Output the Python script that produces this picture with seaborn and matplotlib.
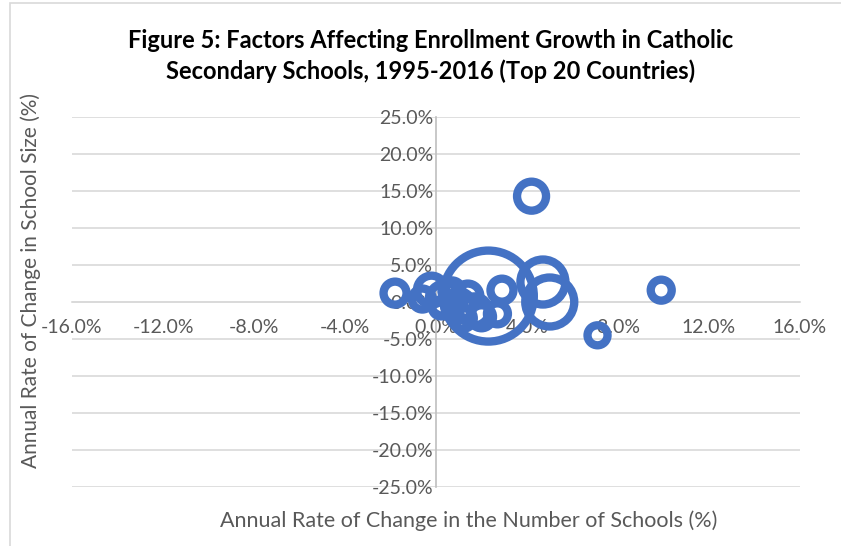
import matplotlib
matplotlib.use("Agg")
import matplotlib.pyplot as plt
import seaborn as sns
import pandas as pd
from matplotlib.ticker import FuncFormatter
from matplotlib.patches import Rectangle

# Data
school_growth = [4.2, 2.3, 4.7, 5.0, 2.9, 2.7, 9.9, 7.1, -1.8, -0.2,
                 0.4, 1.0, 1.4, 1.7, 2.0, -0.6, 0.7, 1.2, 0.2, 0.9]
size_growth = [14.3, 0.8, 2.7, 0.0, 1.6, -1.6, 1.6, -4.5, 1.2, 1.6,
               0.3, -0.5, 0.8, -1.2, -2.0, 0.4, 1.5, -2.2, -0.8, 0.2]
bubble = [210, 2070, 506, 600, 132, 110, 110, 100, 132, 210,
          272, 210, 156, 210, 132, 110, 110, 110, 72, 72]

x_ticks = [-16, -12, -8, -4, 0, 4, 8, 12, 16]
y_ticks = [-25, -20, -15, -10, -5, 0, 5, 10, 15, 20, 25]

df = pd.DataFrame({"x": school_growth, "y": size_growth, "b": bubble})

sns.set_theme(style="white")
plt.rcParams['font.family'] = ['Lato', 'DejaVu Sans']

W, H = 841, 546
fig = plt.figure(figsize=(W / 100, H / 100), dpi=100)
ax = fig.add_axes([72 / W, 1 - 487 / H, (800 - 72) / W, (487 - 117) / H])

k = 2.0736
bmin, bmax = min(bubble), max(bubble)
sns.scatterplot(data=df, x="x", y="y", size="b", sizes=(k * bmin, k * bmax),
                size_norm=(bmin, bmax), edgecolor="#4472C4", facecolor="none",
                linewidth=6, legend=False, ax=ax, zorder=3)
for c in ax.collections:
    c.set_facecolor("none")
    c.set_edgecolor("#4472C4")

ax.set_xlim(-16, 16)
ax.set_ylim(-25, 25)
ax.set_xticks(x_ticks)
ax.set_yticks(y_ticks)
fmt = FuncFormatter(lambda v, p: f"{v:.1f}%")
ax.xaxis.set_major_formatter(fmt)
ax.yaxis.set_major_formatter(fmt)

ax.yaxis.grid(True, color="#d9d9d9", linewidth=1.2)
ax.xaxis.grid(False)
ax.set_axisbelow(True)

for s in ["top", "right"]:
    ax.spines[s].set_visible(False)
ax.spines["left"].set_position(("data", 0))
ax.spines["bottom"].set_position(("data", 0))
ax.spines["left"].set_color("#bfbfbf")
ax.spines["bottom"].set_color("#d9d9d9")
ax.spines["left"].set_linewidth(1.2)
ax.spines["bottom"].set_linewidth(1.2)

ax.tick_params(axis="x", length=0, pad=12, labelsize=14, labelcolor="#595959")
ax.tick_params(axis="y", length=0, pad=2, labelsize=14, labelcolor="#595959")

ax.set_xlabel("")
ax.set_ylabel("")
fig.text(469 / W, 1 - 521 / H, "Annual Rate of Change in the Number of Schools (%)",
         ha="center", va="center", fontsize=15.5, color="#595959")
fig.text(31 / W, 1 - 280 / H, "Annual Rate of Change in School Size (%)",
         ha="center", va="center", rotation=90, fontsize=15, color="#595959")

fig.text(431 / W, 1 - 56 / H,
         "Figure 5: Factors Affecting Enrollment Growth in Catholic\nSecondary Schools, 1995-2016 (Top 20 Countries)",
         ha="center", va="center", fontsize=17, fontweight="bold", color="black",
         linespacing=1.35)

fig.patches.append(Rectangle((10 / W, -0.1), 1.2, 1 - 3 / H + 0.1, transform=fig.transFigure,
                             fill=False, edgecolor="#d9d9d9", linewidth=1.2))

fig.savefig("out.png", dpi=100)
